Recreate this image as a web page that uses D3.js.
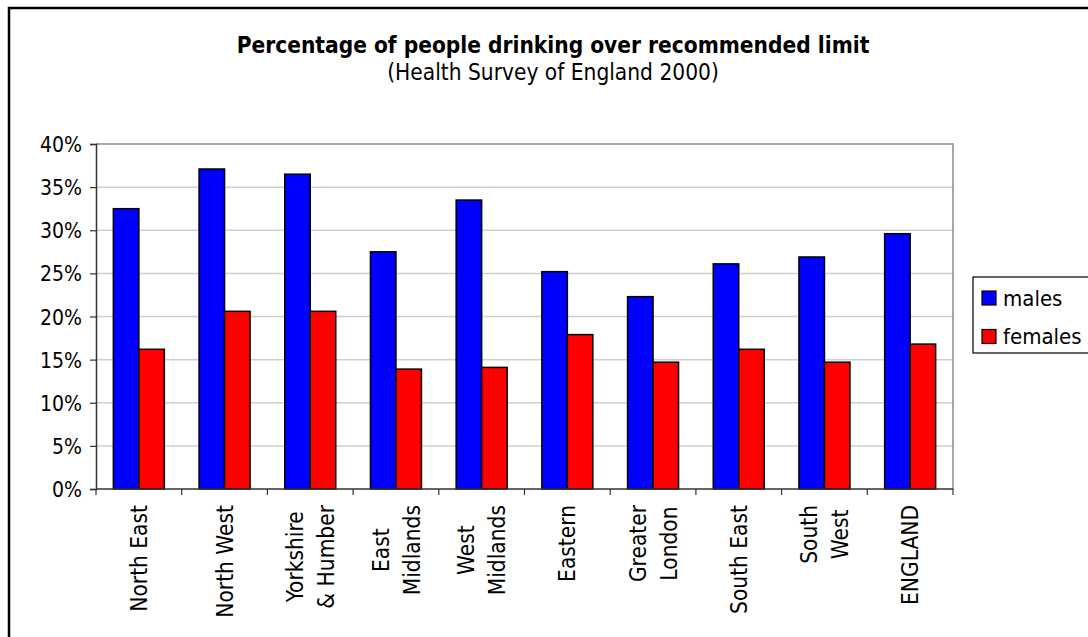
<!DOCTYPE html>
<html>
<head>
<meta charset="utf-8">
<script src="https://cdn.jsdelivr.net/npm/d3@7"></script>
<style>
  body { margin: 0; background: #fff; }
  svg { display: block; }
  text { font-family: "DejaVu Sans Condensed", "DejaVu Sans", sans-serif; fill: #000; }
</style>
</head>
<body>
<svg id="chart" width="1088" height="637"></svg>
<script>
// regions as printed on the axis (lines split with |)
const regions = ["North East", "North West", "Yorkshire|& Humber", "East|Midlands", "West|Midlands",
                 "Eastern", "Greater|London", "South East", "South|West", "ENGLAND"];
const males   = [32.5, 37.1, 36.5, 27.5, 33.5, 25.2, 22.3, 26.1, 26.9, 29.6];
const females = [16.2, 20.6, 20.6, 13.9, 14.1, 17.9, 14.7, 16.2, 14.7, 16.8];
const seriesNames = ["males", "females"];
const seriesColors = ["#0000ff", "#ff0000"];
const yTicks = [0, 5, 10, 15, 20, 25, 30, 35, 40];

const svg = d3.select("#chart");
const plotL = 96, plotR = 953, plotT = 144, plotB = 489;

// outer frame (runs off the right/bottom edge like the original)
svg.append("rect")
    .attr("x", 9).attr("y", 8)
    .attr("width", 1200).attr("height", 800)
    .attr("fill", "none").attr("stroke", "#000").attr("stroke-width", 2.5);

// titles
svg.append("text")
    .attr("x", 553).attr("y", 53)
    .attr("text-anchor", "middle")
    .attr("font-size", 22.5).attr("font-weight", "bold")
    .text("Percentage of people drinking over recommended limit");
svg.append("text")
    .attr("x", 553).attr("y", 80)
    .attr("text-anchor", "middle")
    .attr("font-size", 22.5)
    .text("(Health Survey of England 2000)");

const x = d3.scaleBand().domain(regions).range([plotL, plotR]).paddingInner(0.405).paddingOuter(0.2025);
const xs = d3.scaleBand().domain(seriesNames).range([0, x.bandwidth()]);
const y = d3.scaleLinear().domain([0, 40]).range([plotB, plotT]);

// gridlines
svg.append("g")
    .selectAll("line")
    .data(yTicks.slice(1, -1))
    .join("line")
    .attr("x1", plotL).attr("x2", plotR)
    .attr("y1", d => y(d)).attr("y2", d => y(d))
    .attr("stroke", "#cfcfcf").attr("stroke-width", 1.5);

// plot border (top & right)
svg.append("path")
    .attr("d", `M${plotL},${plotT}H${plotR}V${plotB}`)
    .attr("fill", "none").attr("stroke", "#8c8c8c").attr("stroke-width", 1.5);

// bars
const groups = svg.append("g")
    .selectAll("g")
    .data(regions.map((r, i) => ({ r, vals: [males[i], females[i]] })))
    .join("g")
    .attr("transform", d => `translate(${x(d.r)},0)`);

groups.selectAll("rect")
    .data(d => d.vals.map((v, j) => ({ v, s: seriesNames[j], c: seriesColors[j] })))
    .join("rect")
    .attr("x", d => xs(d.s))
    .attr("width", xs.bandwidth())
    .attr("y", d => y(d.v))
    .attr("height", d => plotB - y(d.v))
    .attr("fill", d => d.c)
    .attr("stroke", "#000").attr("stroke-width", 1.5);

// y axis
const yAxis = svg.append("g")
    .attr("transform", `translate(${plotL},0)`)
    .call(d3.axisLeft(y).tickValues(yTicks).tickSize(6).tickPadding(8).tickFormat(d => d + "%"));
yAxis.select(".domain").attr("stroke", "#333").attr("stroke-width", 1.5);
yAxis.selectAll(".tick line").attr("stroke", "#333").attr("stroke-width", 1.2);
yAxis.selectAll("text").attr("font-size", 21).attr("font-family", null).attr("dy", "0.36em");

// x axis line and boundary ticks
const bounds = d3.range(regions.length + 1).map(i => plotL + i * x.step());
svg.append("line")
    .attr("x1", plotL).attr("x2", plotR).attr("y1", plotB).attr("y2", plotB)
    .attr("stroke", "#333").attr("stroke-width", 1.5);
svg.append("g")
    .selectAll("line")
    .data(bounds)
    .join("line")
    .attr("x1", d => d).attr("x2", d => d)
    .attr("y1", plotB).attr("y2", plotB + 6)
    .attr("stroke", "#333").attr("stroke-width", 1.2);

// rotated category labels, block top-aligned below the axis, lines centred
const labelTop = 505, lineGap = 31, labelSize = 22.5;
regions.forEach(r => {
    const lines = r.split("|");
    const cx = x(r) + x.bandwidth() / 2;
    const g = svg.append("g");
    const texts = lines.map(ln => g.append("text")
        .attr("font-size", labelSize)
        .attr("text-anchor", "middle")
        .text(ln));
    const maxW = d3.max(texts, t => t.node().getComputedTextLength());
    const cy = labelTop + maxW / 2;
    texts.forEach((t, k) => {
        const off = (k - (lines.length - 1) / 2) * lineGap;
        t.attr("transform", `translate(${cx + off},${cy}) rotate(-90)`)
         .attr("dy", "0.36em");
    });
});

// legend
const legend = svg.append("g");
legend.append("rect")
    .attr("x", 973).attr("y", 277).attr("width", 140).attr("height", 76)
    .attr("fill", "#fff").attr("stroke", "#000").attr("stroke-width", 1.2);
seriesNames.forEach((s, i) => {
    const ly = 291 + i * 38.5;
    legend.append("rect")
        .attr("x", 982).attr("y", ly).attr("width", 14).attr("height", 14)
        .attr("fill", seriesColors[i]).attr("stroke", "#000").attr("stroke-width", 1.2);
    legend.append("text")
        .attr("x", 1003).attr("y", ly + 7).attr("dy", "0.36em")
        .attr("font-size", 22)
        .text(s);
});
</script>
</body>
</html>
